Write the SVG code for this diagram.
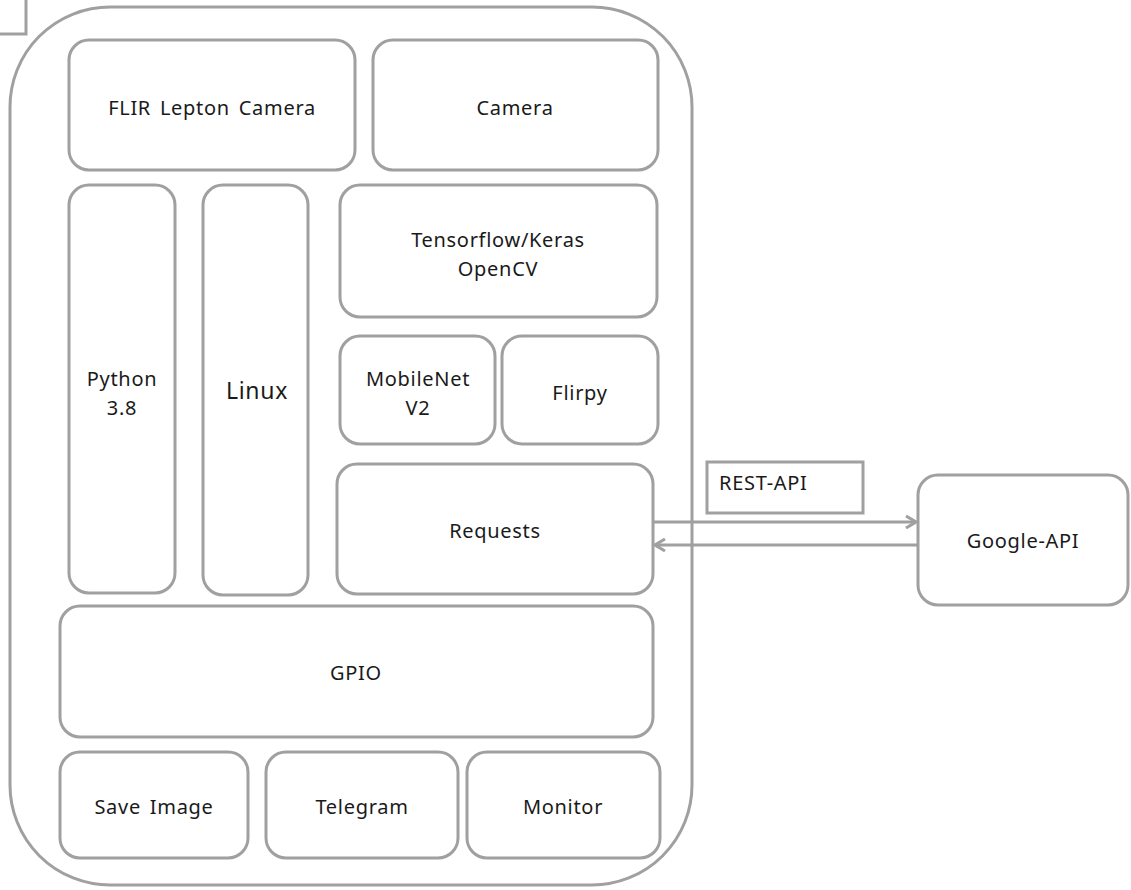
<svg xmlns="http://www.w3.org/2000/svg" width="1131" height="890" viewBox="0 0 1131 890">
<defs>
<style>
rect{fill:#fff;stroke:#a0a0a0;stroke-width:3}
text{font-family:"Noto Sans","Open Sans",sans-serif;font-size:20px;letter-spacing:0.7px;word-spacing:3px;fill:#1a1a1a;text-anchor:middle;dominant-baseline:central}
.big{font-size:23px}
.conn{stroke:#a0a0a0;stroke-width:3;fill:none}
</style>
<marker id="ah" viewBox="0 0 12 14" refX="11" refY="7" markerWidth="12" markerHeight="14" markerUnits="userSpaceOnUse" orient="auto">
<path d="M1,1 L11,7 L1,13" fill="none" stroke="#a0a0a0" stroke-width="3"/>
</marker>
</defs>
<rect x="-20" y="-20" width="46" height="54" rx="0" id="corner"/>
<g id="outer"><rect x="10" y="7" width="682" height="878" rx="100"/></g>
<g id="flir"><rect x="69" y="40" width="286" height="130" rx="20"/><text x="212" y="107">FLIR Lepton Camera</text></g>
<g id="camera"><rect x="373" y="40" width="285" height="130" rx="20"/><text x="515" y="107">Camera</text></g>
<g id="python"><rect x="69" y="185" width="106" height="408" rx="20"/><text x="122" y="378">Python</text><text x="122" y="407">3.8</text></g>
<g id="linux"><rect x="203" y="185" width="105" height="410" rx="20"/><text class="big" x="257" y="390">Linux</text></g>
<g id="tensorflow"><rect x="340" y="185" width="317" height="132" rx="20"/><text x="498" y="239">Tensorflow/Keras</text><text x="498" y="268">OpenCV</text></g>
<g id="mobilenet"><rect x="340" y="336" width="155" height="108" rx="20"/><text x="418" y="378">MobileNet</text><text x="418" y="407">V2</text></g>
<g id="flirpy"><rect x="502" y="336" width="156" height="108" rx="20"/><text x="580" y="392">Flirpy</text></g>
<g id="requests"><rect x="337" y="464" width="316" height="130" rx="20"/><text x="495" y="530">Requests</text></g>
<g id="gpio"><rect x="60" y="606" width="593" height="131" rx="20"/><text x="356" y="672">GPIO</text></g>
<g id="saveimage"><rect x="60" y="752" width="188" height="106" rx="20"/><text x="154" y="806">Save Image</text></g>
<g id="telegram"><rect x="266" y="752" width="192" height="106" rx="20"/><text x="362" y="806">Telegram</text></g>
<g id="monitor"><rect x="467" y="752" width="193" height="106" rx="20"/><text x="563" y="806">Monitor</text></g>
<g id="google"><rect x="918" y="475" width="210" height="130" rx="20"/><text x="1023" y="540">Google-API</text></g>
<g id="restapi"><rect x="707" y="462" width="156" height="51" rx="0"/><text x="719" y="482" style="text-anchor:start">REST-API</text></g>
<g id="connectors">
<line class="conn" x1="653" y1="522" x2="916" y2="522" marker-end="url(#ah)"/>
<line class="conn" x1="917" y1="545" x2="655" y2="545" marker-end="url(#ah)"/>
</g>
</svg>
